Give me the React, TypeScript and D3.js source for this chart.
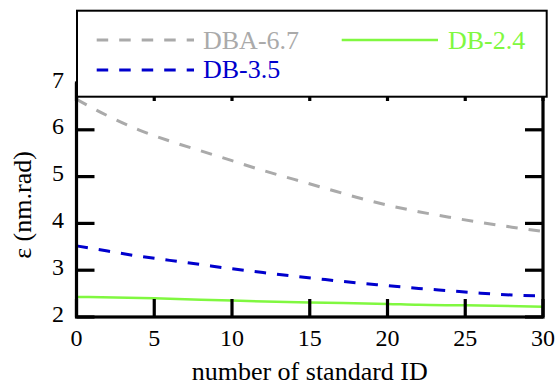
import React from "react";
import * as d3 from "d3";

// Emittance vs. number of standard insertion devices
const xDBA67 = [0, 2, 4, 6, 8, 10, 12, 14, 16, 18, 20, 22, 24, 26, 28, 30];
const yDBA67 = [6.65, 6.3, 6.0, 5.76, 5.55, 5.34, 5.13, 4.94, 4.75, 4.56, 4.39, 4.25, 4.13, 4.02, 3.92, 3.83];

const xDB35 = [0, 2, 4, 6, 8, 10, 12, 14, 16, 18, 20, 22, 24, 26, 28, 30];
const yDB35 = [3.52, 3.41, 3.3, 3.21, 3.12, 3.03, 2.95, 2.87, 2.8, 2.73, 2.67, 2.61, 2.56, 2.51, 2.47, 2.45];

const xDB24 = [0, 5, 8, 10, 15, 20, 22, 25, 30];
const yDB24 = [2.43, 2.4, 2.37, 2.35, 2.31, 2.28, 2.26, 2.25, 2.22];

const xTicks = [0, 5, 10, 15, 20, 25, 30];
const yTicks = [2, 3, 4, 5, 6, 7];

const legendLabels = ["DBA-6.7", "DB-2.4", "DB-3.5"];

const W = 557;
const H = 388;
const FONT = '"Times New Roman", Times, "Liberation Serif", Tinos, "Nimbus Roman", "Noto Serif", "DejaVu Serif", FreeSerif, serif';

const GRAY = "#aaaaaa";
const BLUE = "#0000cd";
const GREEN = "#80f840";

export default function App() {
  const x = d3.scaleLinear().domain([0, 30]).range([76.5, 543]);
  const y = d3.scaleLinear().domain([2, 7]).range([317, 83]);

  const line = d3
    .line<[number, number]>()
    .x((d) => x(d[0]))
    .y((d) => y(d[1]))
    .curve(d3.curveMonotoneX);

  const zip = (xs: number[], ys: number[]) => xs.map((v, i) => [v, ys[i]] as [number, number]);

  const tickLen = 18;
  const [x0, x1] = x.range();
  const [yb, yt] = y.range();
  const txt = { fontFamily: FONT };

  return (
    <svg width={W} height={H} style={{ position: "absolute", left: 0, top: 0, background: "#fff" }}>
      <defs>
        <clipPath id="plotClip">
          <rect x={x0} y={yt} width={x1 - x0} height={yb - yt} />
        </clipPath>
      </defs>

      {/* curves */}
      <g clipPath="url(#plotClip)" fill="none">
        <path d={line(zip(xDBA67, yDBA67)) || ""} stroke={GRAY} strokeWidth={3} strokeDasharray="11.5 11" />
        <path d={line(zip(xDB35, yDB35)) || ""} stroke={BLUE} strokeWidth={3} strokeDasharray="11.5 11" />
        <path d={line(zip(xDB24, yDB24)) || ""} stroke={GREEN} strokeWidth={2.5} />
      </g>

      {/* frame and inward ticks */}
      <g stroke="#000" strokeWidth={3.2} fill="none">
        <rect x={x0} y={yt} width={x1 - x0} height={yb - yt} />
        {xTicks.map((t) => (
          <g key={"xt" + t}>
            <line x1={x(t)} x2={x(t)} y1={yb} y2={yb - tickLen} />
            <line x1={x(t)} x2={x(t)} y1={yt} y2={yt + tickLen} />
          </g>
        ))}
        {yTicks.map((t) => (
          <g key={"yt" + t}>
            <line x1={x0} x2={x0 + tickLen} y1={y(t)} y2={y(t)} />
            <line x1={x1} x2={x1 - tickLen} y1={y(t)} y2={y(t)} />
          </g>
        ))}
      </g>

      {/* tick labels */}
      <g fontSize={24} fill="#000">
        {xTicks.map((t) => (
          <text key={"xl" + t} style={txt} x={x(t)} y={346} textAnchor="middle">
            {t}
          </text>
        ))}
        {yTicks.map((t) => (
          <text key={"yl" + t} style={txt} x={64} y={y(t) + 4.5} textAnchor="end">
            {t}
          </text>
        ))}
      </g>

      {/* axis titles */}
      <text style={txt} x={(x0 + x1) / 2} y={380} textAnchor="middle" fontSize={26} fill="#000">
        number of standard ID
      </text>
      <text
        style={txt}
        transform={`translate(31, ${205}) rotate(-90)`}
        textAnchor="middle"
        fontSize={26}
        fill="#000"
      >
        ε (nm.rad)
      </text>

      {/* legend */}
      <g>
        <rect x={77} y={10.7} width={469.7} height={86} fill="#fff" stroke="#000" strokeWidth={2} />
        <line x1={96.7} x2={194} y1={40} y2={40} stroke={GRAY} strokeWidth={3} strokeDasharray="11.5 11" />
        <text style={txt} x={203} y={48.5} fontSize={26} fill={GRAY}>
          {legendLabels[0]}
        </text>
        <line x1={341.7} x2={438} y1={40} y2={40} stroke={GREEN} strokeWidth={2.5} />
        <text style={txt} x={448} y={48.5} fontSize={26} fill={GREEN}>
          {legendLabels[1]}
        </text>
        <line x1={96.7} x2={194} y1={70} y2={70} stroke={BLUE} strokeWidth={3} strokeDasharray="11.5 11" />
        <text style={txt} x={203} y={78.3} fontSize={26} fill={BLUE}>
          {legendLabels[2]}
        </text>
      </g>
    </svg>
  );
}
